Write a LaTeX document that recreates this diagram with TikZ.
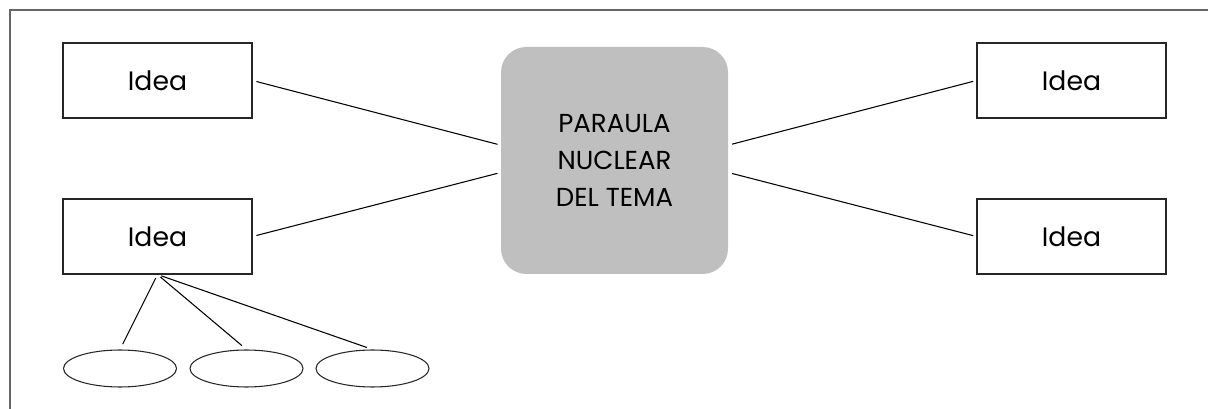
\documentclass[tikz,border=0pt]{standalone}
\usepackage{fontspec}
\setmainfont{Poppins}
\usetikzlibrary{shapes.geometric}
\begin{document}
\begin{tikzpicture}[x=0.75pt,y=-0.75pt,
  ideabox/.style={draw=black!85, line width=0.8pt, minimum width=141.75pt, minimum height=56.25pt, inner sep=0pt, font=\fontsize{20}{24}\selectfont},
  nucli/.style={fill=black!25, rounded corners=19pt, minimum width=170.25pt, minimum height=170.25pt, inner sep=0pt, align=center, font=\fontsize{19.5}{27.75}\selectfont},
  subidea/.style={draw=black!85, line width=0.8pt, ellipse, minimum width=84.75pt, minimum height=27.75pt, inner sep=0pt},
  link/.style={line width=0.8pt, shorten <=3pt, shorten >=2.5pt}]
\useasboundingbox (0,0) rectangle (1208,409);
\draw[black!60, line width=1.5pt] (10,409) |- (1208,10);
\node[nucli] (nucli) at (614.5,160.5) {PARAULA\\NUCLEAR\\DEL TEMA};
\node[ideabox] (idea1) at (157.5,80.5) {Idea};
\node[ideabox] (idea2) at (157.5,236.5) {Idea};
\node[ideabox] (idea3) at (1071.5,80.5) {Idea};
\node[ideabox] (idea4) at (1071.5,236.5) {Idea};
\node[subidea] (sub1) at (120,368.5) {};
\node[subidea] (sub2) at (246.5,368.5) {};
\node[subidea] (sub3) at (372.5,368.5) {};
\draw[link] (idea1.east) -- ([yshift=11.5pt]nucli.west);
\draw[link] (idea2.east) -- ([yshift=-9pt]nucli.west);
\draw[link] ([yshift=11.5pt]nucli.east) -- (idea3.west);
\draw[link] ([yshift=-9pt]nucli.east) -- (idea4.west);
\draw[link, shorten >=4.5pt] (idea2.south) -- (sub1.north);
\draw[link, shorten >=4.5pt] (idea2.south) -- (sub2.north);
\draw[link, shorten >=4.5pt] (idea2.south) -- (sub3.north);
\end{tikzpicture}
\end{document}
